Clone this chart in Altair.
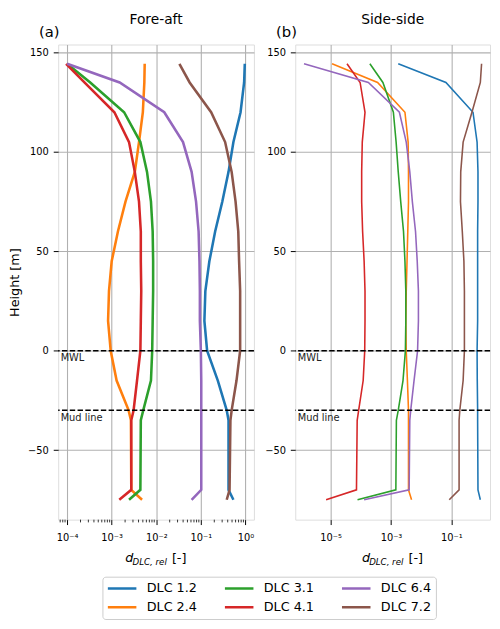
import altair as alt
import pandas as pd

# ---------------- data ----------------
heights = [144.4, 135, 120, 105, 90, 75, 60, 45, 30, 15, 0, -15, -30, -35, -70, -75]
series = ["DLC 1.2", "DLC 2.4", "DLC 3.1", "DLC 4.1", "DLC 6.4", "DLC 7.2"]
colors = ["#1f77b4", "#ff7f0e", "#2ca02c", "#d62728", "#9467bd", "#8c564b"]

# Fore-aft d_DLC,rel
fa_12 = [0.966, 0.933, 0.776, 0.537, 0.417, 0.302, 0.209, 0.155, 0.126, 0.120, 0.138, 0.240, 0.380, 0.417, 0.417, 0.537]
fa_24 = [5.5e-3, 5.4e-3, 5.0e-3, 4.1e-3, 3.3e-3, 2.04e-3, 1.38e-3, 1.0e-3, 8.7e-4, 8.3e-4, 9.5e-4, 1.29e-3, 2.4e-3, 2.7e-3, 2.75e-3, 4.8e-3]
fa_31 = [1.0e-4, 3.3e-4, 1.9e-3, 4.4e-3, 6.2e-3, 7.6e-3, 8.3e-3, 8.5e-3, 8.5e-3, 8.3e-3, 8.1e-3, 7.6e-3, 5.1e-3, 4.5e-3, 4.4e-3, 2.45e-3]
fa_41 = [9.5e-5, 2.45e-4, 1.15e-3, 2.45e-3, 3.3e-3, 4.1e-3, 4.5e-3, 4.5e-3, 4.6e-3, 4.5e-3, 4.4e-3, 3.7e-3, 3.1e-3, 2.75e-3, 2.75e-3, 1.48e-3]
fa_64 = [1.0e-4, 1.51e-3, 1.51e-2, 3.98e-2, 6.2e-2, 7.8e-2, 8.9e-2, 9.3e-2, 9.5e-2, 9.5e-2, 0.100, 0.102, 0.102, 0.102, 0.102, 6.2e-2]
fa_72 = [3.3e-2, 5.6e-2, 0.17, 0.35, 0.49, 0.60, 0.69, 0.72, 0.76, 0.76, 0.76, 0.63, 0.49, 0.46, 0.44, 0.38]

# Side-side d_DLC,rel
ss_12 = [1.74e-3, 6.6e-2, 0.52, 0.71, 0.76, 0.76, 0.74, 0.74, 0.74, 0.74, 0.71, 0.72, 0.74, 0.74, 0.76, 0.91]
ss_24 = [1.12e-5, 3.6e-4, 2.9e-3, 3.7e-3, 3.8e-3, 3.8e-3, 3.6e-3, 3.4e-3, 3.2e-3, 3.1e-3, 3.2e-3, 3.5e-3, 3.8e-3, 3.8e-3, 3.8e-3, 4.8e-3]
ss_31 = [2.0e-4, 5.4e-4, 1.2e-3, 1.48e-3, 1.74e-3, 2.1e-3, 2.6e-3, 2.9e-3, 3.1e-3, 3.1e-3, 3.0e-3, 2.5e-3, 1.74e-3, 1.51e-3, 1.45e-3, 7.8e-5]
ss_41 = [3.5e-5, 9.5e-5, 1.38e-4, 1.12e-4, 1.07e-4, 1.07e-4, 1.15e-4, 1.29e-4, 1.38e-4, 1.38e-4, 1.35e-4, 1.2e-4, 8.5e-5, 7.6e-5, 7.2e-5, 7.1e-6]
ss_64 = [1.32e-6, 1.78e-4, 1.9e-3, 3.2e-3, 4.2e-3, 5.1e-3, 6.5e-3, 7.4e-3, 8.1e-3, 8.1e-3, 7.6e-3, 5.8e-3, 4.5e-3, 4.2e-3, 4.0e-3, 1.29e-4]
ss_72 = [1.0, 0.91, 0.48, 0.245, 0.204, 0.20, 0.23, 0.26, 0.27, 0.27, 0.27, 0.245, 0.19, 0.18, 0.18, 0.085]

ref_levels = [0, -30]
ref_labels = ["MWL", "Mud line"]

y_ticks = [-50, 0, 50, 100, 150]
xa_ticks = [1e-4, 1e-3, 1e-2, 1e-1, 1.0]
xb_ticks = [1e-5, 1e-3, 1e-1]
xa_minor = [m * 10.0 ** k for k in range(-5, 1) for m in range(2, 10) if 6.4e-5 < m * 10.0 ** k < 1.5]

W_A, W_B, H = 199, 198, 483
FONT = "DejaVu Sans"


def long_df(cols):
    rows = []
    for s, vals in zip(series, cols):
        for i, (h, v) in enumerate(zip(heights, vals)):
            rows.append({"series": s, "h": h, "d": v, "idx": i})
    return pd.DataFrame(rows)


color_enc = alt.Color(
    "series:N",
    scale=alt.Scale(domain=series, range=colors),
    legend=alt.Legend(
        title=None, orient="none", legendX=45, legendY=541, columns=3,
        symbolType="stroke", symbolSize=841, symbolStrokeWidth=2.6,
        clipHeight=16, labelFontSize=13, labelFont=FONT, labelColor="black",
        labelOffset=9, columnPadding=26, rowPadding=3, padding=4,
        strokeColor="#cccccc", fillColor="white", cornerRadius=3,
    ),
)

label_expr = ("'10' + (round(log(datum.value)/LN10) < 0 ? '\u207b' : '') + "
              "['\u2070','\u00b9','\u00b2','\u00b3','\u2074','\u2075','\u2076','\u2077']"
              "[abs(round(log(datum.value)/LN10))]")


def panel(cols, dom, ticks, minor, tag, title, ytitle, sw, W):
    df = long_df(cols)
    xs = alt.Scale(type="log", domain=dom, nice=False)
    ys = alt.Scale(domain=[-85, 154.1], nice=False, zero=False)
    yaxis = alt.Axis(values=y_ticks, title=ytitle, titleFontSize=13, titleFont=FONT,
                     titleFontWeight="normal", titleColor="black", titlePadding=6,
                     labelFontSize=10, labelFont=FONT, labelColor="black", labelPadding=5,
                     tickSize=5, tickColor="black", tickWidth=1, domain=False,
                     grid=True, gridColor="#b0b0b0", gridWidth=1.1)
    xaxis = alt.Axis(values=ticks, title="", labelExpr=label_expr, labelFontSize=10,
                     labelFont=FONT, labelColor="black", labelPadding=16,
                     labelBaseline="alphabetic", labelFlush=False,
                     tickSize=5, tickColor="black", tickWidth=1, domain=False,
                     grid=True, gridColor="#b0b0b0", gridWidth=1.1)
    lines = alt.Chart(df).mark_line(strokeWidth=sw, clip=True).encode(
        x=alt.X("d:Q", scale=xs, axis=xaxis),
        y=alt.Y("h:Q", scale=ys, axis=yaxis),
        color=color_enc,
        order=alt.Order("idx:Q"),
    )
    refdf = pd.DataFrame({"h": ref_levels, "label": ref_labels})
    rules = alt.Chart(refdf).mark_rule(color="black", strokeWidth=1.5, strokeDash=[5.5, 2.4]).encode(
        y=alt.Y("h:Q", scale=ys))
    reftext = alt.Chart(refdf).mark_text(align="left", baseline="top", dx=2.5, dy=2.5,
                                          fontSize=10, font=FONT, color="#222222").encode(
        x=alt.value(0), y=alt.Y("h:Q", scale=ys), text="label:N")
    layers = [lines, rules, reftext]
    if minor:
        mdf = pd.DataFrame({"d": minor})
        layers.append(alt.Chart(mdf).mark_rule(color="black", strokeWidth=0.8).encode(
            x=alt.X("d:Q", scale=xs), y=alt.value(H), y2=alt.value(H + 2.8)))
    one = pd.DataFrame({"k": [0]})
    base = alt.Chart(one)
    layers += [
        base.mark_text(text=tag, fontSize=15, font=FONT, align="left", baseline="alphabetic",
                       color="black").encode(x=alt.value(-19.5), y=alt.value(-8)),
        base.mark_text(text=title, fontSize=14, font=FONT, align="center", baseline="alphabetic",
                       color="black").encode(x=alt.value(W / 2), y=alt.value(-20.6)),
        base.mark_text(text="d", fontSize=13, font=FONT, fontStyle="italic", align="left",
                       baseline="alphabetic", color="black").encode(
            x=alt.value(W / 2 - 31.2), y=alt.value(H + 43.3)),
        base.mark_text(text="DLC, rel", fontSize=8.8, font=FONT, fontStyle="italic", align="left",
                       baseline="alphabetic", color="black").encode(
            x=alt.value(W / 2 - 23.9), y=alt.value(H + 46)),
        base.mark_text(text="[-]", fontSize=13, font=FONT, align="left",
                       baseline="alphabetic", color="black").encode(
            x=alt.value(W / 2 + 16.1), y=alt.value(H + 43.3)),
    ]
    return alt.layer(*layers).properties(width=W, height=H)


pa = panel([fa_12, fa_24, fa_31, fa_41, fa_64, fa_72], [10 ** -4.2, 10 ** 0.19], xa_ticks,
           xa_minor, "(a)", "Fore-aft", "Height [m]", 2.6, W_A)
pb = panel([ss_12, ss_24, ss_31, ss_41, ss_64, ss_72], [10 ** -6.17, 10 ** 0.28], xb_ticks,
           [], "(b)", "Side-side", "", 1.6, W_B)

chart = alt.hconcat(pa, pb, spacing=8).resolve_scale(color="shared").properties(
    padding={"left": 0, "top": -1, "right": 0, "bottom": 0}
).configure_view(stroke="black", strokeWidth=1.1).configure(font=FONT)

chart.save("out.html", embed_options={"renderer": "svg", "actions": False})
